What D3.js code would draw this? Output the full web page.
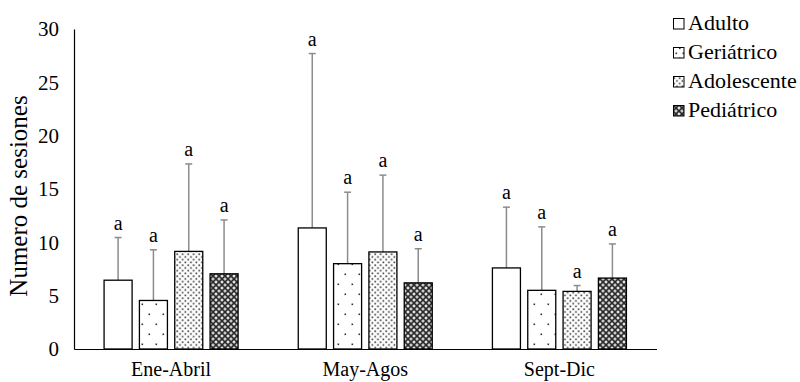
<!DOCTYPE html>
<html><head><meta charset="utf-8">
<script src="https://cdn.jsdelivr.net/npm/d3@7/dist/d3.min.js"></script>
<style>body{margin:0;background:#fff}svg{display:block}</style>
</head><body><svg id="c" width="800" height="382"></svg>
<script>
const categories = ["Ene-Abril", "May-Agos", "Sept-Dic"];
const series = ["Adulto", "Geriátrico", "Adolescente", "Pediátrico"];
const means = {
  "Adulto":      [6.45, 11.35, 7.6],
  "Geriátrico":  [4.55, 8.0, 5.5],
  "Adolescente": [9.15, 9.1, 5.4],
  "Pediátrico":  [7.05, 6.2, 6.65]
};
const errTop = {
  "Adulto":      [10.45, 27.7, 13.3],
  "Geriátrico":  [9.3, 14.7, 11.45],
  "Adolescente": [17.35, 16.3, 5.95],
  "Pediátrico":  [12.1, 9.4, 9.85]
};
const letters = {
  "Adulto": ["a","a","a"], "Geriátrico": ["a","a","a"],
  "Adolescente": ["a","a","a"], "Pediátrico": ["a","a","a"]
};
const yTicks = [0, 5, 10, 15, 20, 25, 30];

const FONT = "'Liberation Serif', 'Times New Roman', Times, 'DejaVu Serif', serif";
const svg = d3.select("#c");
const defs = svg.append("defs");

function makePatterns(suffix, sc) {
  const p1 = defs.append("pattern").attr("id","pGer"+suffix).attr("patternUnits","userSpaceOnUse")
    .attr("width",14*sc).attr("height",20*sc).attr("x",sc===1?141:2).attr("y",sc===1?303:2);
  p1.append("rect").attr("width",14*sc).attr("height",20*sc).attr("fill","#fff");
  p1.append("rect").attr("x",0.5).attr("y",0.5).attr("width",1.6).attr("height",1.6).attr("fill","#333");
  p1.append("rect").attr("x",7*sc+0.5).attr("y",10*sc+0.5).attr("width",1.6).attr("height",1.6).attr("fill","#333");

  const p2 = defs.append("pattern").attr("id","pAdo"+suffix).attr("patternUnits","userSpaceOnUse")
    .attr("width",5.5).attr("height",5.5);
  p2.append("rect").attr("width",5.5).attr("height",5.5).attr("fill","#fff");
  p2.append("rect").attr("x",0.4).attr("y",0.4).attr("width",1.6).attr("height",1.6).attr("fill","#333");
  p2.append("rect").attr("x",3.15).attr("y",3.15).attr("width",1.6).attr("height",1.6).attr("fill","#333");

  const p3 = defs.append("pattern").attr("id","pPed"+suffix).attr("patternUnits","userSpaceOnUse")
    .attr("width",6).attr("height",6);
  p3.append("rect").attr("width",6).attr("height",6).attr("fill","#6a6a6a");
  p3.append("path").attr("d","M0,3L3,0L6,3L3,6Z").attr("fill","none").attr("stroke","#2a2a2a").attr("stroke-width",1);
  p3.append("rect").attr("x",2.2).attr("y",2.2).attr("width",1.6).attr("height",1.6).attr("fill","#fff");
  [[0,0],[5.1,5.1],[5.1,0],[0,5.1]].forEach(([a,b])=>
    p3.append("rect").attr("x",a).attr("y",b).attr("width",0.9).attr("height",0.9).attr("fill","#fff"));
}
makePatterns("", 1);
makePatterns("L", 0.5);

const fills = {"Adulto":"#fff","Geriátrico":"url(#pGer)","Adolescente":"url(#pAdo)","Pediátrico":"url(#pPed)"};
const lfills = {"Adulto":"#fff","Geriátrico":"url(#pGerL)","Adolescente":"url(#pAdoL)","Pediátrico":"url(#pPedL)"};

const x0 = d3.scaleBand().domain(categories).range([74, 656.5]).paddingInner(0).paddingOuter(0);
const groupInner = 134;
const x1 = d3.scaleBand().domain(series).range([0, groupInner]).paddingInner(0.207).paddingOuter(0);
const y = d3.scaleLinear().domain([0, 30]).range([349, 29]);
const off = (x0.bandwidth() - groupInner) / 2;

// y axis
const yAxis = d3.axisLeft(y).tickValues(yTicks).tickSize(0).tickPadding(15);
const gy = svg.append("g").attr("transform","translate(74,0)").call(yAxis);
gy.attr("font-family", null);
gy.select(".domain").attr("stroke","#000").attr("stroke-width",1.2);
gy.selectAll("text").style("font-family",FONT).style("font-size","21px").attr("fill","#000");

// x axis
const xAxis = d3.axisBottom(x0).tickSize(0).tickPadding(13);
const gx = svg.append("g").attr("transform","translate(0,349)").call(xAxis);
gx.attr("font-family", null);
gx.select(".domain").attr("stroke","#000").attr("stroke-width",1.2);
gx.selectAll("text").style("font-family",FONT).style("font-size","20px").attr("fill","#000");

// title
svg.append("text").attr("transform","translate(27,196) rotate(-90)").attr("text-anchor","middle")
  .style("font-family",FONT).style("font-size","25px").text("Numero de sesiones");

// bars
const data = [];
categories.forEach((c,i)=>series.forEach(s=>data.push({c,s,v:means[s][i],e:errTop[s][i],l:letters[s][i]})));
const g = svg.append("g");
const bx = d => x0(d.c) + off + x1(d.s);
g.selectAll(".err").data(data).join("line").attr("class","err")
  .attr("x1",d=>bx(d)+x1.bandwidth()/2).attr("x2",d=>bx(d)+x1.bandwidth()/2)
  .attr("y1",d=>y(d.v)).attr("y2",d=>y(d.e)).attr("stroke","#8c8c8c").attr("stroke-width",1.5);
g.selectAll(".cap").data(data).join("line").attr("class","cap")
  .attr("x1",d=>bx(d)+x1.bandwidth()/2-3.5).attr("x2",d=>bx(d)+x1.bandwidth()/2+3.5)
  .attr("y1",d=>y(d.e)).attr("y2",d=>y(d.e)).attr("stroke","#8c8c8c").attr("stroke-width",1.5);
g.selectAll(".bar").data(data).join("rect").attr("class","bar")
  .attr("x",d=>bx(d)).attr("width",x1.bandwidth())
  .attr("y",d=>y(d.v)).attr("height",d=>y(0)-y(d.v))
  .attr("fill",d=>fills[d.s]).attr("stroke","#000").attr("stroke-width",1.3);
g.selectAll(".lab").data(data).join("text").attr("class","lab")
  .attr("x",d=>bx(d)+x1.bandwidth()/2).attr("y",d=>y(d.e)-8)
  .attr("text-anchor","middle").style("font-family",FONT).style("font-size","20px").text(d=>d.l);

// legend
const lg = svg.append("g").attr("transform","translate(673,0)");
series.forEach((s,i)=>{
  const yy = 18 + i*29;
  lg.append("rect").attr("x",0.5).attr("y",yy+0.5).attr("width",10.5).attr("height",10.5)
    .attr("fill",lfills[s]).attr("stroke","#000").attr("stroke-width",1);
  lg.append("text").attr("x",15).attr("y",yy+11.5).style("font-family",FONT).style("font-size","22px").text(s);
});
</script></body></html>
